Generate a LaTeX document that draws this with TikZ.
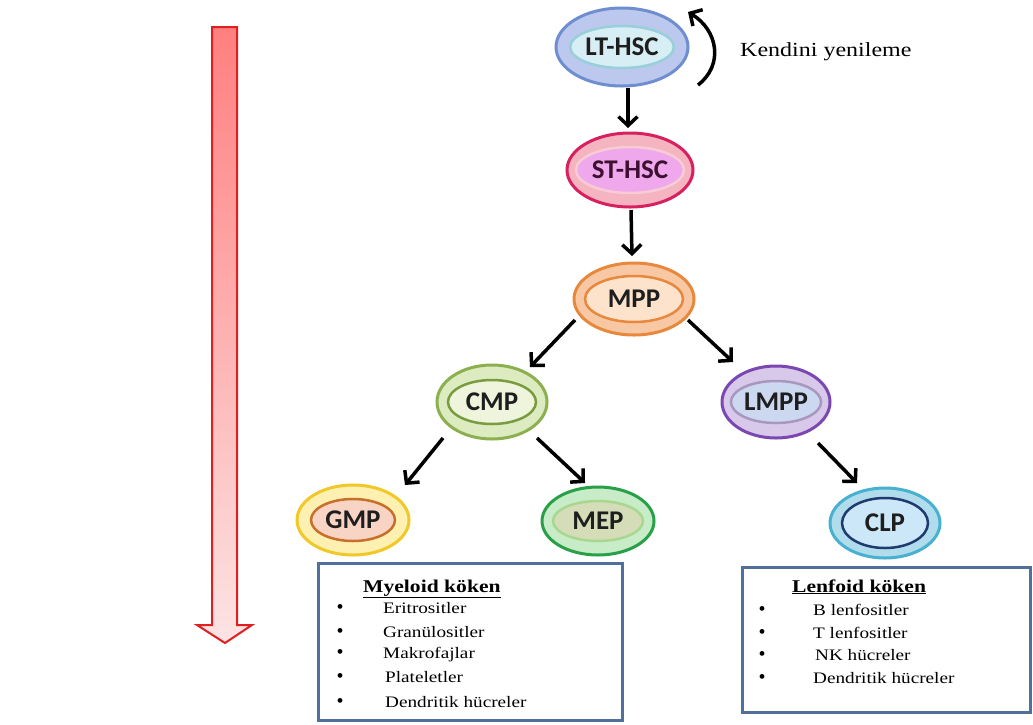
\documentclass[tikz,border=0pt]{standalone}
\usepackage{fontspec}
\setmainfont{Liberation Serif}
\newfontfamily\serst[FakeStretch=1.2]{Liberation Serif}
\newfontfamily\labfont{Carlito}
\usetikzlibrary{shapes.geometric,arrows.meta}
\definecolor{ltB}{HTML}{6F8ED0}\definecolor{ltF}{HTML}{BCC8EE}\definecolor{ltIB}{HTML}{98CFD8}\definecolor{ltIF}{HTML}{D6EEF4}
\definecolor{stB}{HTML}{D82060}\definecolor{stF}{HTML}{F4B4C0}\definecolor{stIB}{HTML}{F8CCD4}\definecolor{stIF}{HTML}{F0A8EC}
\definecolor{mpB}{HTML}{E8883C}\definecolor{mpF}{HTML}{F8C8A4}\definecolor{mpIB}{HTML}{E8883C}\definecolor{mpIF}{HTML}{FDE2CC}
\definecolor{cmB}{HTML}{8CB050}\definecolor{cmF}{HTML}{DCEBC0}\definecolor{cmIB}{HTML}{7A9C40}\definecolor{cmIF}{HTML}{EEF5DC}
\definecolor{lmB}{HTML}{7A48B0}\definecolor{lmF}{HTML}{D8C8EA}\definecolor{lmIB}{HTML}{A898C0}\definecolor{lmIF}{HTML}{CCD8F0}
\definecolor{gmB}{HTML}{F0C828}\definecolor{gmF}{HTML}{FDF0B0}\definecolor{gmIB}{HTML}{C8702A}\definecolor{gmIF}{HTML}{F8D4C4}
\definecolor{meB}{HTML}{28A048}\definecolor{meF}{HTML}{C8ECC8}\definecolor{meIB}{HTML}{A8D890}\definecolor{meIF}{HTML}{D4DCB8}
\definecolor{clB}{HTML}{48B0D0}\definecolor{clF}{HTML}{B0DCEC}\definecolor{clIB}{HTML}{1E3A6E}\definecolor{clIF}{HTML}{CCE8F8}
\definecolor{labtext}{HTML}{1E1E1E}\definecolor{sttext}{HTML}{3C1030}
\definecolor{boxB}{HTML}{50709C}
\definecolor{redB}{HTML}{E02020}\definecolor{redTop}{HTML}{FF7F7F}\definecolor{redBot}{HTML}{FCE4E4}
\begin{document}
\begin{tikzpicture}[x=1pt,y=-1pt,
  outer/.style={ellipse, draw, line width=3pt, inner sep=0pt},
  inner/.style={ellipse, draw, line width=2.5pt, inner sep=0pt, text=labtext,
     font=\labfont\bfseries\fontsize{27}{30}\selectfont},
  arr/.style={line width=3.5pt, -{Straight Barb[length=9pt,width=19pt]}},
  box/.style={draw=boxB, line width=3pt, fill=white, inner sep=0pt},
  titl/.style={anchor=base west, inner sep=0pt, font=\serst\bfseries\fontsize{18}{20}\selectfont},
  item/.style={anchor=base west, inner sep=0pt, font=\serst\fontsize{16}{18}\selectfont},
  bul/.style={anchor=base, inner sep=0pt, font=\fontsize{20}{22}\selectfont}
]
\fill[white] (0,0) rectangle (1033,724);
\useasboundingbox (0,0) rectangle (1033,724);

% red gradient arrow
\shade[draw=redB, line width=2pt, top color=redTop, bottom color=redBot, line join=miter]
  (212,27) -- (237,27) -- (237,625) -- (252,625) -- (225,643) -- (197,625) -- (212,625) -- cycle;

% cells
\node[outer, draw=ltB, fill=ltF, minimum width=132pt, minimum height=78pt] (lt) at (622,47) {};
\node[inner, draw=ltIB, fill=ltIF, minimum width=92pt, minimum height=42pt] (ltl) at (lt.center) {LT-HSC};

\node[outer, draw=stB, fill=stF, minimum width=126pt, minimum height=74pt] (st) at (630,170) {};
\node[inner, draw=stIB, fill=stIF, minimum width=90pt, minimum height=46pt, text=sttext] (stl) at (st.center) {ST-HSC};

\node[outer, draw=mpB, fill=mpF, minimum width=120pt, minimum height=72pt] (mpp) at (634,299) {};
\node[inner, draw=mpIB, fill=mpIF, minimum width=98pt, minimum height=46pt] (mppl) at (mpp.center) {MPP};

\node[outer, draw=cmB, fill=cmF, minimum width=110pt, minimum height=74pt] (cmp) at (492,402) {};
\node[inner, draw=cmIB, fill=cmIF, minimum width=88pt, minimum height=44pt] (cmpl) at (cmp.center) {CMP};

\node[outer, draw=lmB, fill=lmF, minimum width=108pt, minimum height=72pt] (lmpp) at (776,402) {};
\node[inner, draw=lmIB, fill=lmIF, minimum width=82pt, minimum height=42pt] (lmppl) at (lmpp.center) {LMPP};

\node[outer, draw=gmB, fill=gmF, minimum width=112pt, minimum height=70pt] (gmp) at (353,520) {};
\node[inner, draw=gmIB, fill=gmIF, minimum width=84pt, minimum height=42pt] (gmpl) at (gmp.center) {GMP};

\node[outer, draw=meB, fill=meF, minimum width=112pt, minimum height=68pt] (mep) at (598,521) {};
\node[inner, draw=meIB, fill=meIF, minimum width=90pt, minimum height=40pt] (mepl) at (mep.center) {MEP};

\node[outer, draw=clB, fill=clF, minimum width=110pt, minimum height=70pt] (clp) at (885,523) {};
\node[inner, draw=clIB, fill=clIF, minimum width=86pt, minimum height=50pt] (clpl) at (clp.center) {CLP};

% connectors
\draw[arr] ([shift={(6,41)}]lt.center) -- ([shift={(-2,-42)}]st.center);
\draw[arr] ([shift={(1,40)}]st.center) -- ([shift={(-2,-43)}]mpp.center);
\draw[arr] ([shift={(-59,21)}]mpp.center) -- ([shift={(38,-35)}]cmp.center);
\draw[arr] ([shift={(54,21)}]mpp.center) -- ([shift={(-43,-40)}]lmpp.center);
\draw[arr] ([shift={(-49,36)}]cmp.center) -- ([shift={(52,-35)}]gmp.center);
\draw[arr] ([shift={(45,36)}]cmp.center) -- ([shift={(-13,-38)}]mep.center);
\draw[arr] ([shift={(42,41)}]lmpp.center) -- ([shift={(-28,-40)}]clp.center);

% self renewal
\draw[arr] ([shift={(76,38)}]lt.center) .. controls +(26,-20) and +(30,18) .. ([shift={(66,-35)}]lt.center);
\node[anchor=west, inner sep=0pt, font=\serst\fontsize{20}{24}\selectfont] (kend) at (740,52) {Kendini yenileme};

% Myeloid box
\node[box, minimum width=304pt, minimum height=157pt] (mybox) at (470,641.5) {};
\node[titl] (myt) at (363,592) {\underline{Myeloid köken}};
\foreach \y/\x/\t [count=\i] in {613/383/Eritrositler, 637/383/Granülositler, 658/383/Makrofajlar, 682/385/Plateletler, 707/385/Dendritik hücreler}{
  \node[bul] (myb\i) at (340,\y) {•};
  \node[item] (myi\i) at (\x,\y) {\t};
}

% Lenfoid box
\node[box, minimum width=288pt, minimum height=145pt] (lfbox) at (886,639.5) {};
\node[titl] (lft) at (792,592) {\underline{Lenfoid köken}};
\foreach \y/\x/\t [count=\i] in {615/813/B lenfositler, 638/813/T lenfositler, 660/815/NK hücreler, 683/813/Dendritik hücreler}{
  \node[bul] (lfb\i) at (762,\y) {•};
  \node[item] (lfi\i) at (\x,\y) {\t};
}
\end{tikzpicture}
\end{document}
